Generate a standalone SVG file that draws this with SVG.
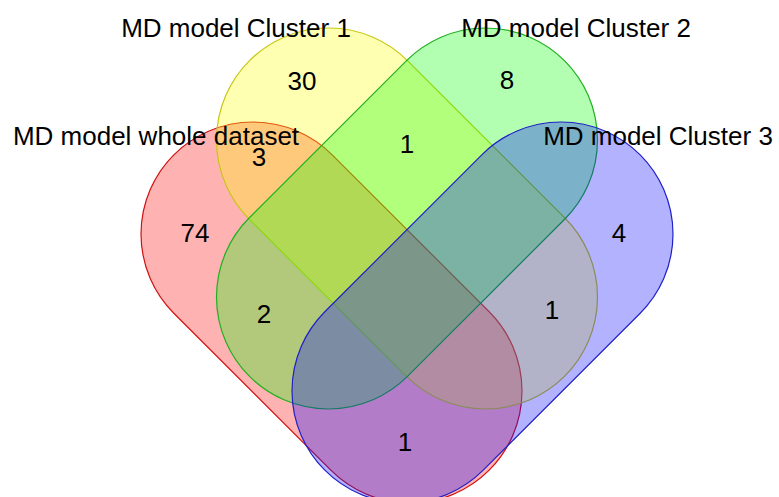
<svg xmlns="http://www.w3.org/2000/svg" width="779" height="497" viewBox="0 0 779 497">
  <style>
    .set { fill-opacity: 0.3; stroke-width: 1.2; }
    .lbl { font-family: "Liberation Sans", Arial, sans-serif; font-size: 26px; fill: #000; text-anchor: middle; }
  </style>
  <rect width="779" height="497" fill="#ffffff"/>

  <!-- four capsule-shaped sets, drawn in order so the overlaps blend -->
  <g id="set-whole">
    <rect class="set" x="108.5" y="200.5" width="446" height="224" rx="112" ry="112" fill="#ff0000" stroke="#d01010" transform="rotate(45 331.5 312.5)"/>
  </g>
  <g id="set-cluster1">
    <rect class="set" x="184" y="106.5" width="446" height="224" rx="112" ry="112" fill="#ffff00" stroke="#c8c814" transform="rotate(45 407 218.5)"/>
  </g>
  <g id="set-cluster2">
    <rect class="set" x="184" y="106.5" width="446" height="224" rx="112" ry="112" fill="#00ff00" stroke="#20b020" transform="rotate(-45 407 218.5)"/>
  </g>
  <g id="set-cluster3">
    <rect class="set" x="259.5" y="200.5" width="446" height="224" rx="112" ry="112" fill="#0000ff" stroke="#2020c8" transform="rotate(-45 482.5 312.5)"/>
  </g>

  <!-- set names -->
  <g id="names">
    <text class="lbl" x="236" y="37">MD model Cluster 1</text>
    <text class="lbl" x="576" y="37">MD model Cluster 2</text>
    <text class="lbl" x="156" y="145">MD model whole dataset</text>
    <text class="lbl" x="658" y="145">MD model Cluster 3</text>
  </g>

  <!-- region counts -->
  <g id="counts">
    <text class="lbl" x="302" y="90">30</text>
    <text class="lbl" x="507" y="89">8</text>
    <text class="lbl" x="259" y="166">3</text>
    <text class="lbl" x="407" y="153">1</text>
    <text class="lbl" x="195" y="242">74</text>
    <text class="lbl" x="619" y="242">4</text>
    <text class="lbl" x="264" y="323">2</text>
    <text class="lbl" x="552" y="319">1</text>
    <text class="lbl" x="405" y="451">1</text>
  </g>
</svg>
